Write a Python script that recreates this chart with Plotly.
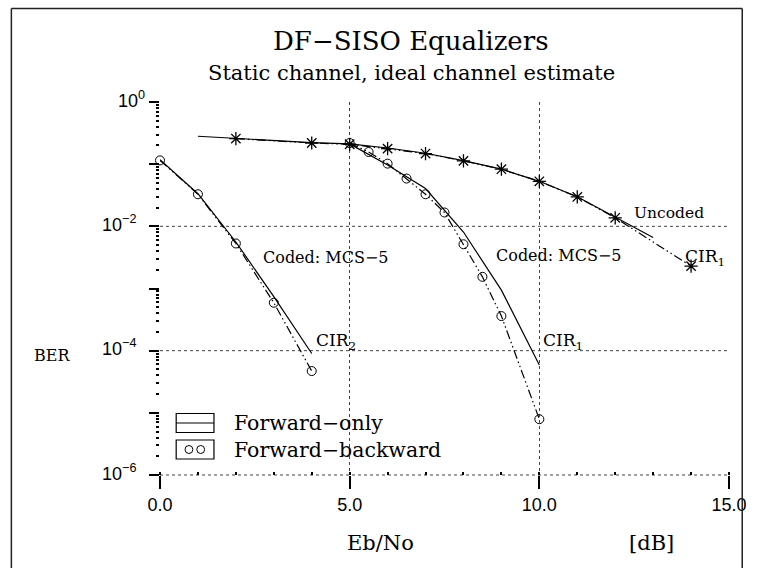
import math
import plotly.graph_objects as go

# ---- data: BER versus Eb/No [dB] ----
# Uncoded reference curves
ebno_unc_fo = [1, 2, 3, 4, 5, 6, 7, 8, 9, 10, 11, 12, 13]
ber_unc_fo = [0.281, 0.260, 0.240, 0.222, 0.212, 0.182, 0.150, 0.114, 0.083, 0.053, 0.030, 0.0142, 0.0066]
ebno_unc_fb = [2, 4, 5, 6, 7, 8, 9, 10, 11, 12, 14]
ber_unc_fb = [0.258, 0.219, 0.209, 0.178, 0.148, 0.113, 0.083, 0.053, 0.0297, 0.0137, 0.00229]

# Coded MCS-5, channel CIR2
ebno_cir2 = [0, 1, 2, 3, 4]
ber_cir2_fo = [0.118, 0.0335, 0.0056, 7.4e-4, 9.0e-5]
ber_cir2_fb = [0.115, 0.0328, 0.0053, 5.9e-4, 4.7e-5]

# Coded MCS-5, channel CIR1
ebno_cir1_fo = [5, 6, 7, 8, 9, 10]
ber_cir1_fo = [0.212, 0.097, 0.0405, 0.0081, 9.4e-4, 5.9e-5]
ebno_cir1_fb = [5, 5.5, 6, 6.5, 7, 7.5, 8, 8.5, 9, 10]
ber_cir1_fb = [0.219, 0.157, 0.102, 0.0587, 0.0328, 0.0167, 0.00515, 0.00154, 3.6e-4, 7.9e-6]

x_ticks = [0, 5, 10, 15]
x_ticktext = ["0.0", "5.0", "10.0", "15.0"]
y_decades = [0, -1, -2, -3, -4, -5, -6]
y_labeled = [0, -2, -4, -6]

# ---- figure geometry ----
W, H = 759, 568
ML, MR, MT, MB = 160, 19, 102, 93
PW, PH = W - ML - MR, H - MT - MB
X_RANGE = [0, 15]
Y_RANGE = [-6, 0]

SERIF = "DejaVu Serif"
SANS = "Liberation Sans"
INK = "black"
DASH_FB = "9px,3px,1.5px,3px,1.5px,3px"


def px_to_paper(px, py):
    return (px - ML) / PW, (H - MB - py) / PH


fig = go.Figure()


def add_curve(x, y, dash, symbol=None, size=9, mwidth=1.0):
    mode = "lines+markers" if symbol else "lines"
    fig.add_trace(go.Scatter(
        x=x, y=y, mode=mode, showlegend=False, cliponaxis=False,
        line=dict(color=INK, width=1.2, dash=dash),
        marker=dict(symbol=symbol or "circle", size=size, color=INK,
                    line=dict(color=INK, width=mwidth)),
    ))


# forward-only: solid lines; forward-backward: dash-dot-dot lines with markers
add_curve(ebno_unc_fo, ber_unc_fo, "solid")
add_curve(ebno_unc_fb, ber_unc_fb, DASH_FB, "asterisk-open", 11, 1.3)
add_curve(ebno_cir2, ber_cir2_fo, "solid")
add_curve(ebno_cir2, ber_cir2_fb, DASH_FB, "circle-open", 9, 1.0)
add_curve(ebno_cir1_fo, ber_cir1_fo, "solid")
add_curve(ebno_cir1_fb, ber_cir1_fb, DASH_FB, "circle-open", 9, 1.0)

shapes = []
# horizontal dotted grid at the labelled decades
for d in y_labeled[1:]:
    yp = (d - Y_RANGE[0]) / (Y_RANGE[1] - Y_RANGE[0])
    shapes.append(dict(type="line", xref="paper", yref="paper", x0=0, x1=1, y0=yp, y1=yp,
                       line=dict(color="#444", width=1, dash="dot"), layer="below"))

# outer frame: left, top and right edges (open at the bottom of the page)
fl, fb = px_to_paper(8.5, H)
fr, ft = px_to_paper(753.5, 8.5)
for (xa, ya, xb, yb) in [(fl, fb, fl, ft), (fl, ft, fr, ft), (fr, ft, fr, fb)]:
    shapes.append(dict(type="line", xref="paper", yref="paper", x0=xa, y0=ya, x1=xb, y1=yb,
                       line=dict(color="#222", width=1.5)))

# legend boxes
bx0, bx1 = 176.5, 215
for top, bottom in [(413.5, 432.5), (440, 459)]:
    a0, b0 = px_to_paper(bx0, bottom)
    a1, b1 = px_to_paper(bx1, top)
    shapes.append(dict(type="rect", xref="paper", yref="paper", x0=a0, x1=a1, y0=b0, y1=b1,
                       line=dict(color=INK, width=1.2)))
la0, lyy = px_to_paper(bx0, 423)
la1, _ = px_to_paper(bx1, 423)
shapes.append(dict(type="line", xref="paper", yref="paper", x0=la0, x1=la1, y0=lyy, y1=lyy,
                   line=dict(color=INK, width=1.2)))
for cx in (189.5, 201.5):
    c0x, c0y = px_to_paper(cx - 4, 449.5 + 4)
    c1x, c1y = px_to_paper(cx + 4, 449.5 - 4)
    shapes.append(dict(type="circle", xref="paper", yref="paper", x0=c0x, x1=c1x, y0=c0y, y1=c1y,
                       line=dict(color=INK, width=1)))

annotations = []


def text_px(px, py, text, size, xanchor="center", family=SERIF):
    xp, yp = px_to_paper(px, py)
    annotations.append(dict(x=xp, y=yp, xref="paper", yref="paper", text=text, showarrow=False,
                            xanchor=xanchor, yanchor="middle",
                            font=dict(family=family, size=size, color=INK)))


def text_data(x, ber, text, size=15.5):
    annotations.append(dict(x=x, y=math.log10(ber), xref="x", yref="y", text=text, showarrow=False,
                            xanchor="left", yanchor="middle",
                            font=dict(family=SERIF, size=size, color=INK)))


# decade labels of the BER axis, placed beside the major ticks
for d in y_labeled:
    exp = str(d).replace("-", "\u2212")
    right_px = 147 if d == 0 else 138
    annotations.append(dict(
        x=(right_px - ML) / PW, y=(d - Y_RANGE[0]) / (Y_RANGE[1] - Y_RANGE[0]),
        xref="paper", yref="paper", text="10<sup>%s</sup>" % exp, showarrow=False,
        xanchor="right", yanchor="middle", yshift=3,
        font=dict(family=SANS, size=18, color=INK)))

text_px(416, 41, "DF\u2212SISO Equalizers", 26)
text_px(416, 73, "Static channel, ideal channel estimate", 21)
text_px(50, 355, "BER", 16)
text_px(385, 543, "Eb/No", 21)
text_px(661, 543, "[dB]", 21)
text_px(233, 423, "Forward\u2212only", 20.5, "left")
text_px(233, 450, "Forward\u2212backward", 20.5, "left")

text_data(2.66, 3.2e-3, "Coded: MCS\u22125", 16)
text_data(8.81, 3.4e-3, "Coded: MCS\u22125", 16)
text_data(12.45, 1.65e-2, "Uncoded", 15.5)
text_data(13.8, 3.2e-3, "CIR<sub>1</sub>", 17)
text_data(4.05, 1.4e-4, "CIR<sub>2</sub>", 17)
text_data(10.05, 1.4e-4, "CIR<sub>1</sub>", 17)

fig.update_layout(
    width=W, height=H, autosize=False,
    margin=dict(l=ML, r=MR, t=MT, b=MB),
    paper_bgcolor="white", plot_bgcolor="white",
    showlegend=False,
    shapes=shapes, annotations=annotations,
    xaxis=dict(
        range=X_RANGE, tickmode="array", tickvals=x_ticks, ticktext=x_ticktext,
        ticks="outside", ticklen=13, tickwidth=1.5, tickcolor=INK,
        showgrid=True, gridcolor="#444", gridwidth=1, griddash="dot",
        showline=False, zeroline=False,
        tickfont=dict(family=SANS, size=18, color=INK),
        minor=dict(dtick=1, ticks="inside", ticklen=3, tickcolor=INK, showgrid=False),
    ),
    yaxis=dict(
        type="log", range=Y_RANGE, tickmode="array",
        tickvals=[10.0 ** d for d in y_decades],
        ticktext=["" for d in y_decades],
        ticks="outside", ticklen=10, tickwidth=2, tickcolor=INK,
        showgrid=False, showline=False, zeroline=False,
        minor=dict(dtick="D1", ticks="outside", ticklen=3, tickcolor=INK, showgrid=False),
    ),
)

fig.write_html("out.html", config={"responsive": False})
